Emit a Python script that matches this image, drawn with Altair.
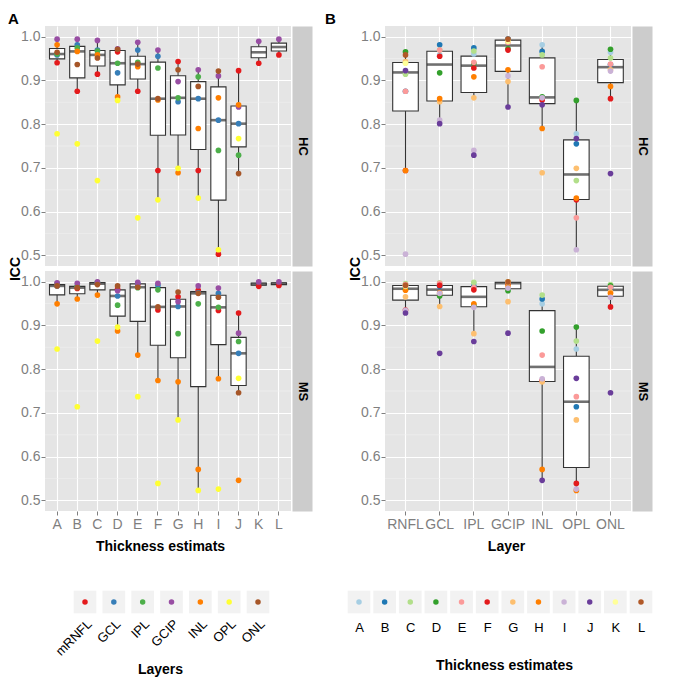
import altair as alt
import pandas as pd

# ---------------- data ----------------
ests = list("ABCDEFGHIJKL")
layers = ["mRNFL", "GCL", "IPL", "GCIP", "INL", "OPL", "ONL"]
layers_b = ["RNFL", "GCL", "IPL", "GCIP", "INL", "OPL", "ONL"]
layer_colors = ["#E41A1C", "#377EB8", "#4DAF4A", "#984EA3", "#FF7F00", "#FFFF33", "#A65628"]
est_colors = ["#A6CEE3", "#1F78B4", "#B2DF8A", "#33A02C", "#FB9A99", "#E31A1C",
              "#FDBF6F", "#FF7F00", "#CAB2D6", "#6A3D9A", "#FFFF99", "#B15928"]

# ICC per thickness estimate (A..L); K and L only exist for mRNFL and GCIP
hc_mrnfl = [0.940, 0.875, 0.914, 0.965, 0.875, 0.694, 0.943, 0.694, 0.503, 0.922, 0.939, 0.958]
hc_gcl = [0.958, 0.981, 0.969, 0.917, 0.969, 0.955, 0.851, 0.858, 0.809, 0.801]
hc_ipl = [0.960, 0.974, 0.967, 0.939, 0.941, 0.928, 0.860, 0.908, 0.740, 0.729]
hc_gcip = [0.994, 0.994, 0.991, 0.972, 0.987, 0.969, 0.897, 0.924, 0.910, 0.839, 0.989, 0.994]
hc_inl = [0.981, 0.966, 0.958, 0.862, 0.931, 0.855, 0.689, 0.790, 0.860, 0.844]
hc_opl = [0.778, 0.755, 0.671, 0.854, 0.586, 0.627, 0.699, 0.631, 0.513, 0.767]
hc_onl = [0.964, 0.936, 0.951, 0.971, 0.937, 0.858, 0.924, 0.886, 0.921, 0.687]

ms_mrnfl = [0.991, 0.984, 0.995, 0.983, 0.993, 0.935, 0.965, 0.980, 0.934, 0.928, 0.989, 0.991]
ms_gcl = [0.990, 0.989, 0.997, 0.967, 0.996, 0.991, 0.943, 0.974, 0.973, 0.836]
ms_ipl = [0.995, 0.989, 0.998, 0.946, 0.986, 0.981, 0.881, 0.949, 0.941, 0.863]
ms_gcip = [0.997, 0.996, 0.999, 0.979, 0.998, 0.996, 0.954, 0.990, 0.985, 0.882, 0.999, 0.999]
ms_inl = [0.949, 0.960, 0.969, 0.887, 0.832, 0.774, 0.771, 0.571, 0.778, 0.546]
ms_opl = [0.846, 0.714, 0.864, 0.896, 0.737, 0.539, 0.684, 0.523, 0.526, 0.779]
ms_onl = [0.990, 0.986, 0.993, 0.990, 0.987, 0.942, 0.976, 0.973, 0.964, 0.746]

y_ticks = [0.5, 0.6, 0.7, 0.8, 0.9, 1.0]
y_minor = [0.55, 0.65, 0.75, 0.85, 0.95]

rows = []
for grp, series in (("HC", [hc_mrnfl, hc_gcl, hc_ipl, hc_gcip, hc_inl, hc_opl, hc_onl]),
                    ("MS", [ms_mrnfl, ms_gcl, ms_ipl, ms_gcip, ms_inl, ms_opl, ms_onl])):
    for lay, lay_b, vals in zip(layers, layers_b, series):
        for e, v in zip(ests, vals):
            rows.append({"group": grp, "layer": lay, "layer_b": lay_b, "est": e, "icc": v})
df = pd.DataFrame(rows)
minor_df = pd.DataFrame({"v": y_minor})

# ---------------- styling ----------------
W, H = 246, 240
LEG_H = 86
Y_DOMAIN = [0.476, 1.024]
GREY = "#7F7F7F"
DARK = "#333333"
GAP = 5
SQ = 22.7
STRIP_W = 20


def panel(pid, group):
    d = df[df["group"] == group]
    if pid == "A":
        xfield, xdom, cfield, cdom, crange, bsize, xtitle, xtx = (
            "est", ests, "layer", layers, layer_colors, 15.2, "Thickness estimats", 115)
    else:
        xfield, xdom, cfield, cdom, crange, bsize, xtitle, xtx = (
            "layer_b", layers_b, "est", ests, est_colors, 25.6, "Layer", 121)
    yscale = alt.Scale(domain=Y_DOMAIN, zero=False, nice=False)
    xscale = alt.Scale(domain=xdom, paddingInner=0, paddingOuter=0.1)
    if group == "MS":
        xaxis = alt.Axis(bandPosition=0.5, labelAngle=0, labelColor=GREY, labelFontSize=14,
                         labelPadding=2, tickColor=GREY, tickSize=4, domain=False, grid=True,
                         gridColor="white", gridWidth=1.1, title=xtitle, titleFontSize=14,
                         titleFontWeight="bold", titleColor="black", titlePadding=8, titleX=xtx)
    else:
        xaxis = alt.Axis(bandPosition=0.5, labels=False, ticks=False, domain=False, grid=True,
                         gridColor="white", gridWidth=1.1, title=None)
    ykw = dict(values=y_ticks, format=".1f", labelColor=GREY, labelFontSize=14, labelPadding=1,
               tickColor=GREY, tickSize=4, domain=False, grid=True, gridColor="white",
               gridWidth=1.1, orient="left")
    if group == "HC":
        yaxis = alt.Axis(title="ICC", titleFontSize=14, titleFontWeight="bold",
                         titleColor="black", titleX=-23, titleY=H + GAP / 2,
                         titleAngle=-90, titleAlign="center", titleBaseline="bottom", **ykw)
    else:
        yaxis = alt.Axis(title=None, **ykw)
    # grey facet strip on the right: a thick axis domain line carrying the group label
    strip_axis = alt.Axis(orient="right", offset=1 + STRIP_W / 2, domain=True,
                          domainColor="#CCCCCC", domainWidth=STRIP_W, ticks=False, labels=False,
                          grid=False, title=group, titleAngle=90, titleX=0, titleY=H / 2,
                          titleAlign="center", titleBaseline="middle", titleFontSize=13,
                          titleFontWeight="bold", titleColor="black")

    minor = alt.Chart(minor_df).mark_rule(color="#F2F2F2", strokeWidth=0.6).encode(
        y=alt.Y("v:Q", scale=yscale, axis=strip_axis))
    box = alt.Chart(d).mark_boxplot(
        extent=1.5, size=bsize, outliers=False, color="white",
        box={"fill": "white", "stroke": DARK, "strokeWidth": 1.1},
        median={"color": DARK, "thickness": 2.6},
        rule={"color": DARK, "strokeWidth": 1.1},
    ).encode(
        x=alt.X(f"{xfield}:N", scale=xscale, axis=xaxis),
        y=alt.Y("icc:Q", scale=yscale, axis=None),
    )
    pts = alt.Chart(d).mark_circle(size=32, opacity=1).encode(
        x=alt.X(f"{xfield}:N", scale=xscale, axis=xaxis),
        y=alt.Y("icc:Q", scale=yscale, axis=yaxis),
        color=alt.Color(f"{cfield}:N", scale=alt.Scale(domain=cdom, range=crange), legend=None),
    )
    props = dict(width=W, height=H, view=alt.ViewBackground(fill="#E5E5E5", stroke="transparent"))
    if group == "HC":
        # the strip's thick domain line pads the group bounds; pull the label back down
        props["title"] = alt.TitleParams(pid, anchor="start", frame="group", fontSize=15,
                                         fontWeight="bold", color="black", offset=4 - STRIP_W,
                                         baseline="bottom", dx=-37 if pid == "A" else -60)
    return alt.layer(minor, box, pts).resolve_axis(y="independent").properties(**props)


def legend(pid):
    if pid == "A":
        field, dom, colors, title, rng, angle, align, pad, tpad, tx = (
            "layer", layers, layer_colors, "Layers", [40, 213], -45, "right", 4, 4, 115)
    else:
        field, dom, colors, title, rng, angle, align, pad, tpad, tx = (
            "est", ests, est_colors, "Thickness estimates", [-26, 256], 0, "center", 8, 24, 119)
    ldf = pd.DataFrame({field: dom, "k": ["k"] * len(dom)})
    xs = alt.X(f"{field}:N", scale=alt.Scale(domain=dom, range=rng, padding=0),
               axis=alt.Axis(domain=False, ticks=False, tickSize=0, grid=False, labelAngle=angle,
                             labelAlign=align, labelBaseline="top", labelFontSize=13,
                             labelColor="black", labelPadding=pad + SQ / 2, title=title,
                             titleFontSize=14, titleFontWeight="bold", titleColor="black",
                             titlePadding=tpad, titleX=tx))
    # the swatch row sits on the bottom edge of this legend panel
    ys = alt.Y("k:N", scale=alt.Scale(domain=["k"], padding=0.5, align=1), axis=None)
    sq = alt.Chart(ldf).mark_square(size=SQ * SQ, color="#F2F2F2", opacity=1).encode(x=xs, y=ys)
    dot = alt.Chart(ldf).mark_circle(size=30, opacity=1).encode(
        x=xs, y=ys,
        color=alt.Color(f"{field}:N", scale=alt.Scale(domain=dom, range=colors), legend=None))
    return alt.layer(sq, dot).properties(
        width=W, height=LEG_H, view=alt.ViewBackground(fill="transparent", stroke="transparent"))


chart = alt.concat(
    panel("A", "HC"), panel("B", "HC"),
    panel("A", "MS"), panel("B", "MS"),
    legend("A"), legend("B"),
    columns=2, bounds="flush", spacing={"row": GAP, "column": 94},
).resolve_scale(color="independent").properties(
    padding={"top": 4, "left": 0, "right": 0, "bottom": 0}).configure(
    font="Liberation Sans").configure_view(strokeWidth=0)

chart.save("out.html", embed_options={"renderer": "svg", "actions": False})
